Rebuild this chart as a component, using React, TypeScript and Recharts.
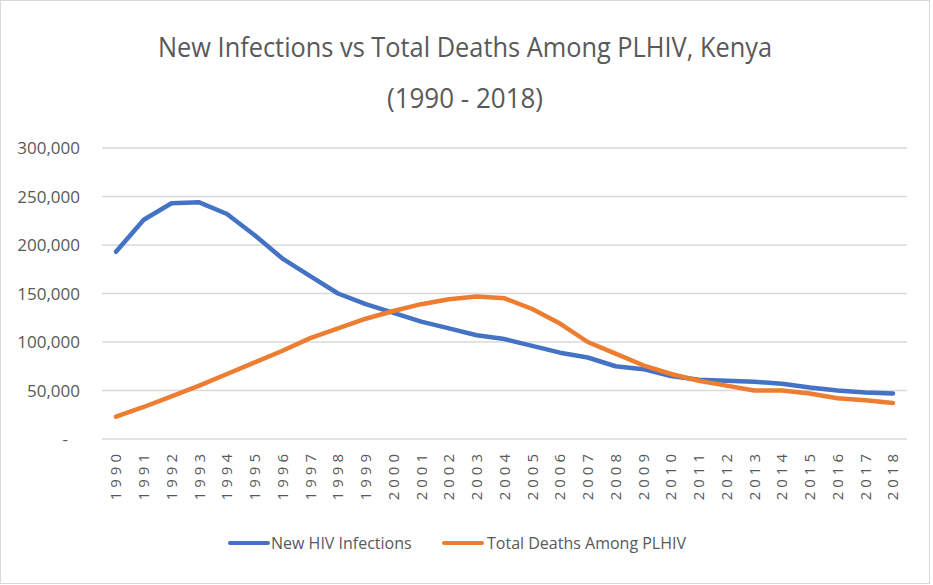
import React from 'react';
import { LineChart, Line, XAxis, YAxis, CartesianGrid, Legend } from 'recharts';

const years = ['1990','1991','1992','1993','1994','1995','1996','1997','1998','1999','2000','2001','2002','2003','2004','2005','2006','2007','2008','2009','2010','2011','2012','2013','2014','2015','2016','2017','2018'];
const newInfections = [193000, 226000, 243000, 244000, 232000, 210000, 186000, 168000, 150000, 139000, 130000, 121000, 114000, 107000, 103000, 96000, 89000, 84000, 75000, 72000, 65000, 61000, 60000, 59000, 57000, 53000, 50000, 48000, 47000];
const totalDeaths = [23000, 33000, 44000, 55000, 67000, 79000, 91000, 104000, 114000, 124000, 132000, 139000, 144000, 147000, 145000, 134000, 119000, 100000, 88000, 76000, 67000, 60000, 55000, 50000, 50000, 47000, 42000, 40000, 37000];
const yTicks = [0, 50000, 100000, 150000, 200000, 250000, 300000];
const titleLine1 = 'New Infections vs Total Deaths Among PLHIV, Kenya';
const titleLine2 = '(1990 - 2018)';
const seriesNames = ['New HIV Infections', 'Total Deaths Among PLHIV'];
const colors = ['#4472C4', '#ED7D31'];

const data = years.map((y, i) => ({ year: y, infections: newInfections[i], deaths: totalDeaths[i] }));

const W = 928;
const H = 582;
const FONT = '"Open Sans", "Noto Sans", sans-serif';
const TEXT = '#595959';

const XTick = (props: any) => {
  const { x, y, payload } = props;
  return (
    <g transform={`translate(${x},${y})`}>
      <text transform="rotate(-90)" x={-11} y={0} dy="0.36em" textAnchor="end" fill={TEXT} fontSize={15} letterSpacing={4} fontFamily={FONT}>
        {payload.value}
      </text>
    </g>
  );
};

const YTick = (props: any) => {
  const { x, y, payload } = props;
  const v = payload.value as number;
  const label = v === 0 ? '-' : v.toLocaleString('en-US');
  return (
    <text x={v === 0 ? x - 12 : x} y={y} dy="0.36em" textAnchor="end" fill={TEXT} fontSize={17} fontFamily={FONT}>
      {label}
    </text>
  );
};

const LegendContent = () => {
  const items = [
    { left: 216, textLeft: 259 },
    { left: 430, textLeft: 475 },
  ];
  return (
    <div style={{ position: 'relative', width: W - 33, height: 50 }}>
      {items.map((it, i) => (
        <React.Fragment key={i}>
          <div style={{ position: 'absolute', left: it.left, top: 32, width: 42, height: 4, borderRadius: 2, background: colors[i] }} />
          <div style={{ position: 'absolute', left: it.textLeft, top: 22, fontFamily: FONT, fontSize: 16, color: TEXT, lineHeight: '24px', whiteSpace: 'nowrap' }}>
            {seriesNames[i]}
          </div>
        </React.Fragment>
      ))}
    </div>
  );
};

export default function App() {
  return (
    <div style={{ position: 'absolute', left: 0, top: 0, width: W, height: H, border: '1px solid #d9d9d9', background: '#fff' }}>
      <LineChart width={W} height={H} data={data} margin={{ top: 147, right: 22, left: 11, bottom: 24 }}>
        <CartesianGrid vertical={false} stroke="#d9d9d9" strokeWidth={1.5} />
        <XAxis dataKey="year" interval={0} axisLine={false} tickLine={false} tickSize={0} tickMargin={0} height={70} padding={{ left: 14, right: 14 }} tick={<XTick />} />
        <YAxis domain={[0, 300000]} ticks={yTicks} axisLine={false} tickLine={false} tickSize={0} tickMargin={22} width={90} tick={<YTick />} />
        <Legend verticalAlign="bottom" content={<LegendContent />} />
        <Line type="linear" dataKey="infections" name={seriesNames[0]} stroke={colors[0]} strokeWidth={4.5} dot={false} strokeLinecap="round" strokeLinejoin="round" isAnimationActive={false} />
        <Line type="linear" dataKey="deaths" name={seriesNames[1]} stroke={colors[1]} strokeWidth={4.5} dot={false} strokeLinecap="round" strokeLinejoin="round" isAnimationActive={false} />
      </LineChart>
      <svg width={W} height={130} style={{ position: 'absolute', left: 0, top: 0, pointerEvents: 'none' }}>
        <text x={464} y={56} textAnchor="middle" fill={TEXT} fontSize={28} fontFamily={FONT} textLength={614} lengthAdjust="spacingAndGlyphs">{titleLine1}</text>
        <text x={464} y={107} textAnchor="middle" fill={TEXT} fontSize={28} fontFamily={FONT} textLength={156} lengthAdjust="spacingAndGlyphs">{titleLine2}</text>
      </svg>
    </div>
  );
}
